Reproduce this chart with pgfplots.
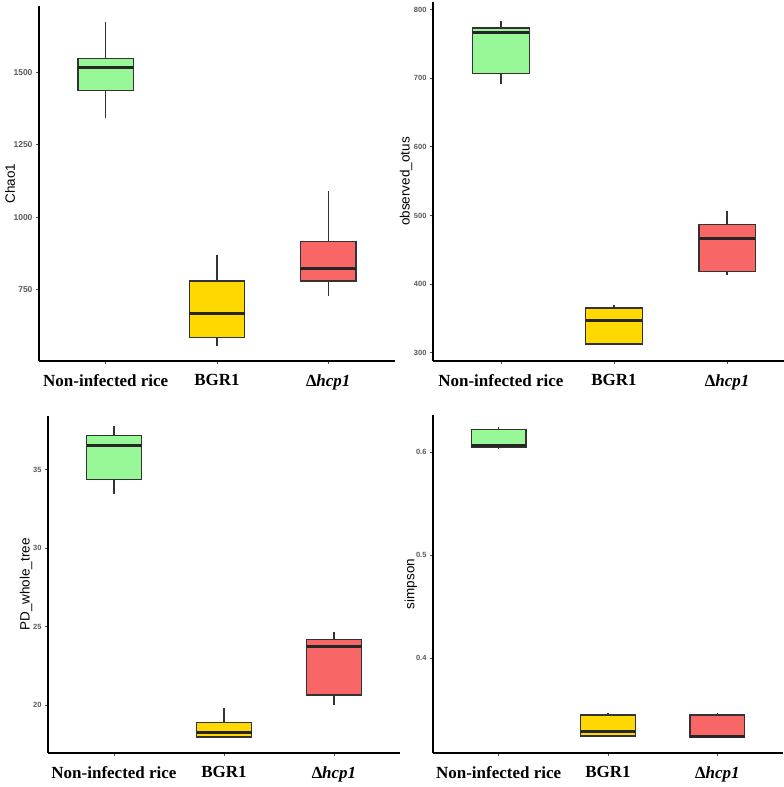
\documentclass[border=0pt]{standalone}
\usepackage{pgfplots}
\pgfplotsset{compat=1.18}
\usepackage{fontspec}
\setmainfont{Liberation Serif}
\newfontfamily\arial{Liberation Sans}
\definecolor{cg}{HTML}{98F898}
\definecolor{cy}{HTML}{FFD800}
\definecolor{cr}{HTML}{F96666}
\definecolor{edge}{HTML}{333333}
% left, centre, right, min, q1, median, q3, max, colour
\newcommand\bx[9]{%
  \addplot[edge, line width=1.3pt] coordinates {(#2,#4) (#2,#5)};
  \addplot[edge, line width=1.3pt] coordinates {(#2,#7) (#2,#8)};
  \addplot[fill=#9, draw=edge, line width=1.3pt] coordinates {(#1,#5) (#3,#5) (#3,#7) (#1,#7)} -- cycle;
  \addplot[black!85, line width=3pt] coordinates {(#1,#6) (#3,#6)};
}
\pgfplotsset{
  mybox/.style={
    scale only axis,
    xmin=0.4, xmax=3.6,
    axis x line*=bottom, axis y line*=left,
    xtick={1,2,3},
    xticklabels={Non-infected rice, BGR1, {\itshape ∆hcp1}},
    x tick label style={font=\fontsize{17}{17}\selectfont\bfseries, text=black, yshift=-7pt},
    y tick label style={font=\arial\fontsize{7.5}{7.5}\selectfont\bfseries, text=black!65},
    yticklabel style={/pgf/number format/set thousands separator={}},
    /pgf/number format/assume math mode=true,
    tick style={black!70, line width=0.7pt},
    major tick length=3pt,
    tick align=outside,
    axis line style={line width=1.5pt, black},
    every axis y label/.style={at={(axis description cs:0,0.5)}, rotate=90, anchor=center,
      font=\arial\fontsize{13.5}{13.5}\selectfont, text=black},
    clip=false,
  },
}
\begin{document}
\begin{tikzpicture}
\path[use as bounding box] (0,0) rectangle (784pt,787pt);
% Chao1
\begin{axis}[mybox, at={(39pt,426pt)}, anchor=south west, width=356pt, height=355pt,
  ymin=503, ymax=1729, ytick={750,1000,1250,1500}, ylabel={Chao1},
  y tick label style={font=\arial\fontsize{8.5}{8.5}\selectfont\bfseries},
  every axis y label/.append style={yshift=29pt}]
\bx{0.75}{1}{1.25}{1343}{1438}{1518}{1547}{1674}{cg}
\bx{1.75}{2}{2.25}{556}{585}{666}{779}{870}{cy}
\bx{2.75}{3}{3.25}{727}{779}{821}{916}{1089}{cr}
\end{axis}
% observed_otus
\begin{axis}[mybox, at={(433pt,426pt)}, anchor=south west, width=362pt, height=359pt,
  ymin=288, ymax=811, ytick={300,400,500,600,700,800}, ylabel={observed\_otus},
  every axis y label/.append style={yshift=27pt}]
\bx{0.75}{1}{1.25}{691}{707}{766}{773}{783}{cg}
\bx{1.75}{2}{2.25}{312}{312.7}{347}{365}{370}{cy}
\bx{2.75}{3}{3.25}{413.7}{418.5}{467}{486.6}{506}{cr}
\end{axis}
% PD_whole_tree
\begin{axis}[mybox, at={(48pt,34pt)}, anchor=south west, width=352pt, height=337pt,
  ymin=16.97, ymax=38.4, ytick={20,25,30,35}, ylabel={PD\_whole\_tree},
  every axis y label/.append style={yshift=22pt}]
\bx{0.75}{1}{1.25}{33.43}{34.37}{36.55}{37.14}{37.76}{cg}
\bx{1.75}{2}{2.25}{17.97}{17.98}{18.28}{18.92}{19.81}{cy}
\bx{2.75}{3}{3.25}{20.02}{20.65}{23.77}{24.2}{24.64}{cr}
\end{axis}
% simpson
\begin{axis}[mybox, at={(433pt,34pt)}, anchor=south west, width=350pt, height=338pt,
  ymin=0.3078, ymax=0.636, ytick={0.4,0.5,0.6}, ylabel={simpson},
  yticklabel style={/pgf/number format/fixed, /pgf/number format/precision=1, /pgf/number format/fixed zerofill},
  every axis y label/.append style={yshift=22pt}]
\bx{0.75}{1}{1.25}{0.603}{0.6046}{0.606}{0.622}{0.6246}{cg}
\bx{1.75}{2}{2.25}{0.3243}{0.3244}{0.3284}{0.3447}{0.3463}{cy}
\bx{2.75}{3}{3.25}{0.323}{0.3232}{0.3243}{0.3447}{0.3463}{cr}
\end{axis}
\end{tikzpicture}
\end{document}
